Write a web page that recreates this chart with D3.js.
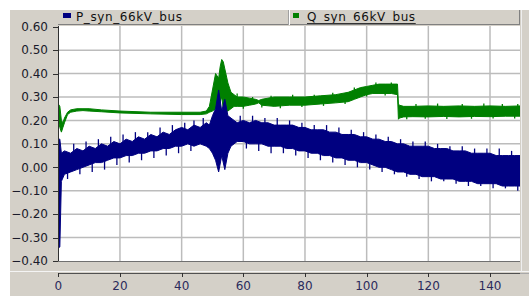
<!DOCTYPE html>
<html>
<head>
<meta charset="utf-8">
<script src="https://cdn.jsdelivr.net/npm/d3@7"></script>
<style>
  body { margin: 0; background: #fff; }
  svg { display: block; font-family: "DejaVu Sans", Verdana, sans-serif; }
</style>
</head>
<body>
<div id="chart"></div>
<script>
// series names
var seriesNames = ["P_syn_66kV_bus", "Q_syn_66kV_bus"];

// axis ticks
var xTicks = [0, 20, 40, 60, 80, 100, 120, 140];
var yTicks = [0.6, 0.5, 0.4, 0.3, 0.2, 0.1, 0.0, -0.1, -0.2, -0.3, -0.4];

// P_syn_66kV_bus : envelope of the noisy trace (time, low, high)
var pTime = [0, 0.5, 1, 2, 4, 6, 8, 10, 12, 14, 16, 18, 20, 22, 24, 26, 28, 30, 32, 34, 36, 38, 40, 42, 44, 46, 48, 49, 50, 51, 52, 53, 54, 55, 56, 57,
    58, 60, 62, 64, 66, 68, 70, 72, 74, 76, 78, 80, 82, 84, 86, 88, 90, 92, 94, 96, 98, 100, 102, 104, 106, 108, 110, 112, 114, 116, 118, 120, 122, 124, 126, 128, 130, 132, 134, 136, 138, 140, 142, 144, 146, 148, 150];
var pHigh = [0.12, 0.12, 0.06, 0.07, 0.06, 0.08, 0.07, 0.09, 0.08, 0.10, 0.09, 0.11, 0.10, 0.12, 0.11, 0.13, 0.12, 0.14, 0.13, 0.15, 0.14, 0.16, 0.17, 0.16, 0.18, 0.17, 0.19, 0.18, 0.22, 0.25, 0.33, 0.24, 0.29, 0.22, 0.21, 0.20,
    0.19, 0.20, 0.19, 0.20, 0.19, 0.19, 0.18, 0.18, 0.18, 0.18, 0.17, 0.17, 0.16, 0.16, 0.16, 0.15, 0.15, 0.14, 0.14, 0.14, 0.13, 0.13, 0.12, 0.12, 0.11, 0.11, 0.10, 0.10, 0.09, 0.09, 0.09, 0.09, 0.08, 0.08, 0.08, 0.07, 0.07, 0.07, 0.06, 0.06, 0.06, 0.06, 0.05, 0.05, 0.05, 0.05, 0.05];
var pLow = [-0.345, -0.34, -0.06, -0.03, -0.02, -0.01, 0.0, 0.01, 0.02, 0.02, 0.03, 0.04, 0.04, 0.05, 0.05, 0.06, 0.06, 0.07, 0.07, 0.08, 0.08, 0.09, 0.09, 0.10, 0.09, 0.10, 0.09, 0.08, 0.06, 0.03, -0.02, 0.05, -0.01, 0.06, 0.09, 0.10,
    0.11, 0.11, 0.10, 0.10, 0.10, 0.09, 0.09, 0.09, 0.08, 0.08, 0.07, 0.07, 0.06, 0.06, 0.05, 0.05, 0.04, 0.04, 0.03, 0.03, 0.02, 0.02, 0.01, 0.0, 0.0, -0.01, -0.02, -0.02, -0.03, -0.03, -0.04, -0.04, -0.04, -0.05, -0.05, -0.05, -0.06, -0.06, -0.06, -0.07, -0.07, -0.07, -0.07, -0.08, -0.08, -0.08, -0.08];

// P spikes sticking out of the band (time, value)
var pUpTime = [5, 9, 13, 17, 21, 25, 29, 33, 37, 41, 44, 47, 59, 63, 67, 71, 75, 79, 83, 87, 91, 95, 99, 103, 107, 111, 115, 119, 123, 127, 131, 135, 139, 143, 147];
var pUpVal = [0.10, 0.11, 0.12, 0.13, 0.14, 0.15, 0.15, 0.17, 0.18, 0.19, 0.20, 0.21, 0.22, 0.22, 0.21, 0.21, 0.20, 0.19, 0.18, 0.18, 0.17, 0.16, 0.15, 0.14, 0.13, 0.12, 0.11, 0.11, 0.10, 0.09, 0.09, 0.08, 0.08, 0.08, 0.07];
var pDnTime = [3, 7, 11, 15, 19, 23, 27, 31, 35, 39, 43, 61, 65, 69, 73, 77, 81, 85, 89, 93, 97, 101, 105, 109, 113, 117, 121, 125, 129, 133, 137, 141, 145, 149];
var pDnVal = [-0.05, -0.03, -0.02, -0.01, 0.01, 0.02, 0.03, 0.04, 0.05, 0.06, 0.07, 0.08, 0.07, 0.06, 0.06, 0.05, 0.04, 0.03, 0.02, 0.01, 0.0, -0.01, -0.02, -0.03, -0.04, -0.05, -0.06, -0.06, -0.07, -0.08, -0.08, -0.09, -0.09, -0.10];

// Q_syn_66kV_bus : envelope of the noisy trace
var qTime = [0, 0.5, 1, 1.5, 2, 3, 4, 6, 8, 10, 14, 20, 30, 40, 46, 48, 49, 50, 51, 52, 52.5, 53, 53.5, 54, 55, 56, 57, 58, 60, 62, 64, 65, 66, 70, 75, 80, 85, 90, 94, 96, 98, 100, 102, 104, 106, 108, 110, 110.3, 110.6, 112, 115, 120, 125, 130, 135, 140, 145, 150];
var qHigh = [0.27, 0.26, 0.20, 0.19, 0.21, 0.235, 0.245, 0.25, 0.25, 0.25, 0.245, 0.24, 0.235, 0.235, 0.235, 0.24, 0.26, 0.33, 0.40, 0.38, 0.43, 0.46, 0.45, 0.42, 0.36, 0.32, 0.31, 0.30, 0.30, 0.295, 0.29, 0.285, 0.29, 0.30, 0.30, 0.30, 0.305, 0.31, 0.32, 0.33, 0.34, 0.345, 0.35, 0.355, 0.355, 0.355, 0.355, 0.27, 0.265, 0.26, 0.26, 0.262, 0.26, 0.262, 0.26, 0.262, 0.26, 0.262];
var qLow = [0.20, 0.17, 0.15, 0.17, 0.19, 0.225, 0.235, 0.24, 0.242, 0.24, 0.237, 0.232, 0.228, 0.225, 0.225, 0.228, 0.235, 0.24, 0.25, 0.24, 0.28, 0.30, 0.25, 0.24, 0.24, 0.25, 0.26, 0.26, 0.26, 0.265, 0.27, 0.275, 0.265, 0.26, 0.265, 0.265, 0.27, 0.275, 0.28, 0.29, 0.30, 0.31, 0.315, 0.315, 0.315, 0.315, 0.31, 0.205, 0.21, 0.215, 0.216, 0.215, 0.217, 0.215, 0.217, 0.216, 0.218, 0.218];

// Q spikes
var qUpTime = [58, 63, 69, 76, 83, 89, 96, 103, 108, 116, 123, 131, 138, 144, 149];
var qUpVal = [0.315, 0.30, 0.305, 0.31, 0.31, 0.318, 0.34, 0.362, 0.362, 0.27, 0.272, 0.27, 0.272, 0.27, 0.27];
var qDnTime = [60, 66, 72, 79, 86, 93, 100, 106, 113, 119, 126, 134, 141, 148];
var qDnVal = [0.25, 0.255, 0.252, 0.257, 0.262, 0.27, 0.302, 0.306, 0.205, 0.207, 0.206, 0.207, 0.208, 0.208];

var colours = ["#000080", "#008000"];

var W = 529, H = 296;
var plot = {left: 58, right: 520, top: 26, bottom: 261};

var svg = d3.select("#chart").append("svg")
    .attr("width", W)
    .attr("height", H);

// panel background
svg.append("rect")
    .attr("x", 10).attr("y", 10)
    .attr("width", W - 10).attr("height", H - 10)
    .attr("fill", "#d4d0c8");

var x = d3.scaleLinear().domain([0, 150]).range([plot.left + 0.3, plot.left + 0.3 + 150 * 3.0836]);
var y = d3.scaleLinear().domain([-0.4, 0.6]).range([plot.bottom, plot.top + 0.7]);

// legend header
var header = svg.append("g");
header.append("line")
    .attr("x1", plot.left).attr("x2", plot.right)
    .attr("y1", 24.5).attr("y2", 24.5)
    .attr("stroke", "#808080");
header.append("line")
    .attr("x1", plot.right - 0.5).attr("x2", plot.right - 0.5)
    .attr("y1", 10).attr("y2", 25)
    .attr("stroke", "#808080");
header.append("line")
    .attr("x1", 288.5).attr("x2", 288.5)
    .attr("y1", 10).attr("y2", 25)
    .attr("stroke", "#a0a0a0");
header.append("line")
    .attr("x1", 289.5).attr("x2", 289.5)
    .attr("y1", 10).attr("y2", 25)
    .attr("stroke", "#ffffff");

var legendPos = [{sq: 63, tx: 76}, {sq: 293, tx: 307}];
seriesNames.forEach(function(name, i) {
    header.append("rect")
        .attr("x", legendPos[i].sq).attr("y", 13)
        .attr("width", i == 0 ? 8 : 6).attr("height", 5)
        .attr("fill", colours[i]);
    var t = header.append("text")
        .attr("x", legendPos[i].tx).attr("y", 21)
        .attr("font-size", "12px")
        .attr("letter-spacing", "0.6px")
        .attr("fill", "#111")
        .text(name);
    if (i == 1) {
        var bb = t.node().getBBox();
        header.append("line")
            .attr("x1", bb.x).attr("x2", bb.x + bb.width)
            .attr("y1", 23.5).attr("y2", 23.5)
            .attr("stroke", "#333");
    }
});

// plot background
svg.append("rect")
    .attr("x", plot.left).attr("y", plot.top)
    .attr("width", plot.right - plot.left).attr("height", plot.bottom - plot.top)
    .attr("fill", "#fff");

// grid
svg.append("g").selectAll("line")
    .data(xTicks.filter(function(d) { return d > 0; }))
    .enter().append("line")
    .attr("x1", function(d) { return x(d); }).attr("x2", function(d) { return x(d); })
    .attr("y1", plot.top).attr("y2", plot.bottom)
    .attr("stroke", "#bcbcbc").attr("stroke-width", 1.5);
svg.append("g").selectAll("line")
    .data(yTicks.filter(function(d) { return d < 0.59 && d > -0.39; }))
    .enter().append("line")
    .attr("x1", plot.left).attr("x2", plot.right)
    .attr("y1", function(d) { return y(d); }).attr("y2", function(d) { return y(d); })
    .attr("stroke", "#bcbcbc").attr("stroke-width", 1.5);

// clip traces to plot
svg.append("clipPath").attr("id", "clip")
    .append("rect")
    .attr("x", plot.left).attr("y", plot.top)
    .attr("width", plot.right - plot.left).attr("height", plot.bottom - plot.top);

function band(times, lo, hi) {
    return times.map(function(t, i) { return {t: t, lo: lo[i], hi: hi[i]}; });
}
var area = d3.area()
    .x(function(d) { return x(d.t); })
    .y0(function(d) { return y(d.lo); })
    .y1(function(d) { return y(d.hi); });

var traces = svg.append("g").attr("clip-path", "url(#clip)");

function drawTrace(times, lo, hi, upT, upV, dnT, dnV, col, reach) {
    var g = traces.append("g");
    g.append("path")
        .datum(band(times, lo, hi))
        .attr("d", area)
        .attr("fill", col)
        .attr("stroke", col)
        .attr("stroke-width", 1);
    // spikes
    g.selectAll("line.up")
        .data(upT.map(function(t, i) { return {t: t, v: upV[i]}; }))
        .enter().append("line")
        .attr("x1", function(d) { return x(d.t); }).attr("x2", function(d) { return x(d.t); })
        .attr("y1", function(d) { return y(d.v); }).attr("y2", function(d) { return y(d.v - reach); })
        .attr("stroke", col).attr("stroke-width", 1.3);
    g.selectAll("line.dn")
        .data(dnT.map(function(t, i) { return {t: t, v: dnV[i]}; }))
        .enter().append("line")
        .attr("x1", function(d) { return x(d.t); }).attr("x2", function(d) { return x(d.t); })
        .attr("y1", function(d) { return y(d.v); }).attr("y2", function(d) { return y(d.v + reach); })
        .attr("stroke", col).attr("stroke-width", 1.3);
}

drawTrace(qTime, qLow, qHigh, qUpTime, qUpVal, qDnTime, qDnVal, colours[1], 0.02);
drawTrace(pTime, pLow, pHigh, pUpTime, pUpVal, pDnTime, pDnVal, colours[0], 0.05);

// y axis
var yAxis = svg.append("g");
yAxis.append("line")
    .attr("x1", plot.left + 0.5).attr("x2", plot.left + 0.5)
    .attr("y1", plot.top).attr("y2", plot.bottom + 1)
    .attr("stroke", "#303030");
yAxis.append("line")
    .attr("x1", plot.left).attr("x2", plot.right)
    .attr("y1", plot.bottom + 0.5).attr("y2", plot.bottom + 0.5)
    .attr("stroke", "#707070");
yAxis.selectAll("line.tick")
    .data(yTicks).enter().append("line")
    .attr("x1", plot.left - 5).attr("x2", plot.left)
    .attr("y1", function(d) { return Math.round(y(d)) + 0.5; })
    .attr("y2", function(d) { return Math.round(y(d)) + 0.5; })
    .attr("stroke", "#303030");
yAxis.selectAll("text")
    .data(yTicks).enter().append("text")
    .attr("x", 48).attr("y", function(d) { return y(d); })
    .attr("dy", "0.36em")
    .attr("text-anchor", "end")
    .attr("font-size", "12px")
    .attr("fill", "#1a1a2a")
    .text(function(d) { return d3.format(".2f")(d); });

// x axis strip
var xAxis = svg.append("g");
xAxis.append("line")
    .attr("x1", 10).attr("x2", W)
    .attr("y1", 271.5).attr("y2", 271.5)
    .attr("stroke", "#f4f4f4");
xAxis.append("line")
    .attr("x1", plot.left).attr("x2", plot.right)
    .attr("y1", 273.5).attr("y2", 273.5)
    .attr("stroke", "#505050");
xAxis.append("line")
    .attr("x1", plot.right).attr("x2", W)
    .attr("y1", 273.5).attr("y2", 273.5)
    .attr("stroke", "#a8a8a8");
xAxis.selectAll("line.tick")
    .data(xTicks).enter().append("line")
    .attr("x1", function(d) { return Math.round(x(d)) + 0.5; })
    .attr("x2", function(d) { return Math.round(x(d)) + 0.5; })
    .attr("y1", 273).attr("y2", 277)
    .attr("stroke", "#303030");
xAxis.selectAll("text")
    .data(xTicks).enter().append("text")
    .attr("x", function(d) { return x(d); }).attr("y", 290)
    .attr("text-anchor", "middle")
    .attr("font-size", "12px")
    .attr("fill", "#2b2b5c")
    .text(function(d) { return d; });

// right edge highlight
svg.append("line")
    .attr("x1", 521.5).attr("x2", 521.5)
    .attr("y1", 10).attr("y2", 272)
    .attr("stroke", "#eeeeee");
</script>
</body>
</html>
